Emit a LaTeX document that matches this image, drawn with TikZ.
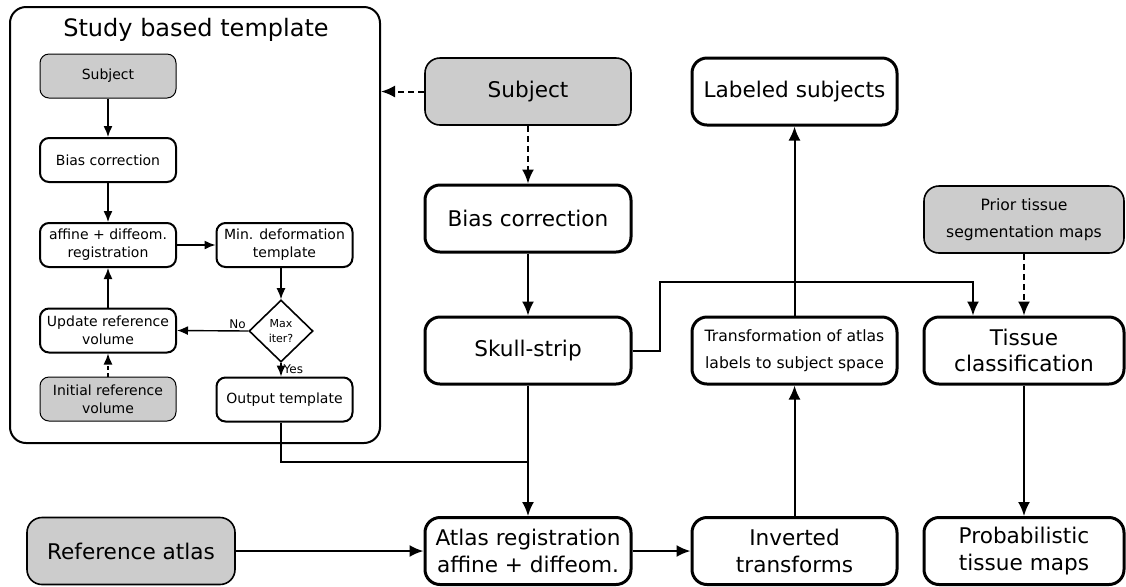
\documentclass[tikz,border=0pt]{standalone}
\usepackage{fontspec}
\setmainfont{DejaVu Sans}
\usetikzlibrary{arrows.meta,shapes.geometric}
\definecolor{boxgray}{HTML}{CCCCCC}

\begin{document}
\begin{tikzpicture}[x=0.5pt,y=-0.5pt,
  mainbox/.style={draw, line width=1.5pt, rounded corners=7.5pt, fill=white, align=center,
    inner sep=0pt, minimum height=33.5pt, font=\fontsize{10.8}{13.3}\selectfont},
  graymain/.style={mainbox, fill=boxgray, line width=0.8pt},
  smallbox/.style={mainbox, font=\fontsize{7.8}{13.5}\selectfont},
  innerbox/.style={draw, line width=1pt, rounded corners=4.5pt, fill=white, align=center,
    inner sep=0pt, minimum width=68pt, minimum height=22pt, font=\fontsize{7}{9}\selectfont},
  innergray/.style={innerbox, fill=boxgray, line width=0.5pt},
  arr/.style={-{Latex[length=7pt,width=6pt]}, line width=1pt},
  darr/.style={arr, dash pattern=on 3pt off 2pt},
  iarr/.style={-{Latex[length=5.5pt,width=4.5pt]}, line width=0.7pt},
  tag/.style={inner sep=1pt, font=\fontsize{6}{7}\selectfont}]
  \useasboundingbox (0,0) rectangle (1126,586);

  % Study based template (left panel)
  \node[draw, line width=1pt, rounded corners=8pt, inner sep=0pt,
    minimum width=185pt, minimum height=218pt] (study) at (195,225) {};
  \node[font=\fontsize{12}{14}\selectfont] (title) at (196,30) {Study based template};

  \node[innergray] (tsubj) at (108,76) {Subject};
  \node[innerbox] (tbias) at (108,160) {Bias correction};
  \node[innerbox] (treg) at (108,245) {affine + diffeom.\\registration};
  \node[innerbox] (tmindef) at (284.5,245) {Min. deformation\\template};
  \node[draw, diamond, line width=0.8pt, inner sep=0pt, minimum width=32pt, minimum height=31pt,
    align=center, font=\fontsize{5.5}{7.5}\selectfont] (tmax) at (281,331) {Max\\iter?};
  \node[innerbox] (tupdate) at (108,330.5) {Update reference\\volume};
  \node[innergray] (tinit) at (108,399) {Initial reference\\volume};
  \node[innerbox] (toutput) at (284.5,399.5) {Output template};

  \draw[iarr] (tsubj) -- (tbias);
  \draw[iarr] (tbias) -- (treg);
  \draw[iarr] (treg) -- (tmindef);
  \draw[iarr] (tmindef.south -| tmax) -- (tmax.north);
  \draw[iarr] (tmax.west) -- node[tag, above, pos=0.15] (tno) {No} (tupdate.east);
  \draw[iarr] (tmax.south) -- node[tag, right, pos=0.45] (tyes) {Yes} (toutput.north -| tmax);
  \draw[iarr] (tupdate) -- (treg);
  \draw[iarr, dash pattern=on 2pt off 1.5pt] (tinit) -- (tupdate);

  % Main pipeline
  \node[graymain, minimum width=103pt] (subj) at (528,91.5) {Subject};
  \node[mainbox, minimum width=103pt] (bias) at (528,218.5) {Bias correction};
  \node[mainbox, minimum width=103pt] (skull) at (528,350.5) {Skull-strip};
  \node[mainbox, minimum width=103pt] (atlasreg) at (528,551) {Atlas registration\\affine + diffeom.};
  \node[graymain, minimum width=104pt] (refatlas) at (131,551) {Reference atlas};
  \node[mainbox, minimum width=102.5pt] (invtr) at (794.5,551) {Inverted\\transforms};
  \node[smallbox, minimum width=102.5pt] (transf) at (794.5,350.5) {Transformation of atlas\\labels to subject space};
  \node[mainbox, minimum width=102.5pt] (labeled) at (794.5,91.5) {Labeled subjects};
  \node[graymain, minimum width=100pt, font=\fontsize{7.8}{13.5}\selectfont] (prior) at (1024,219.5) {Prior tissue\\segmentation maps};
  \node[mainbox, minimum width=100pt] (tissue) at (1024,350.5) {Tissue\\classification};
  \node[mainbox, minimum width=100pt] (probmaps) at (1024,551) {Probabilistic\\tissue maps};

  \coordinate (bend) at (660,282);
  \coordinate (merge) at (528,462);

  \draw[darr] (subj.west) -- (subj.west -| study.east);
  \draw[darr] (subj) -- (bias);
  \draw[arr] (bias) -- (skull);
  \draw[arr] (skull) -- (atlasreg);
  \draw[line width=1pt] (toutput.south -| tmax) |- (merge);
  \draw[arr] (skull.east) -| (bend) -| ([xshift=-25.5pt]tissue.north);
  \draw[darr] (prior) -- (tissue);
  \draw[arr] (tissue) -- (probmaps);
  \draw[arr] (refatlas) -- (atlasreg);
  \draw[arr] (atlasreg) -- (invtr);
  \draw[arr] (invtr) -- (transf);
  \draw[arr] (transf) -- (labeled);
\end{tikzpicture}
\end{document}
